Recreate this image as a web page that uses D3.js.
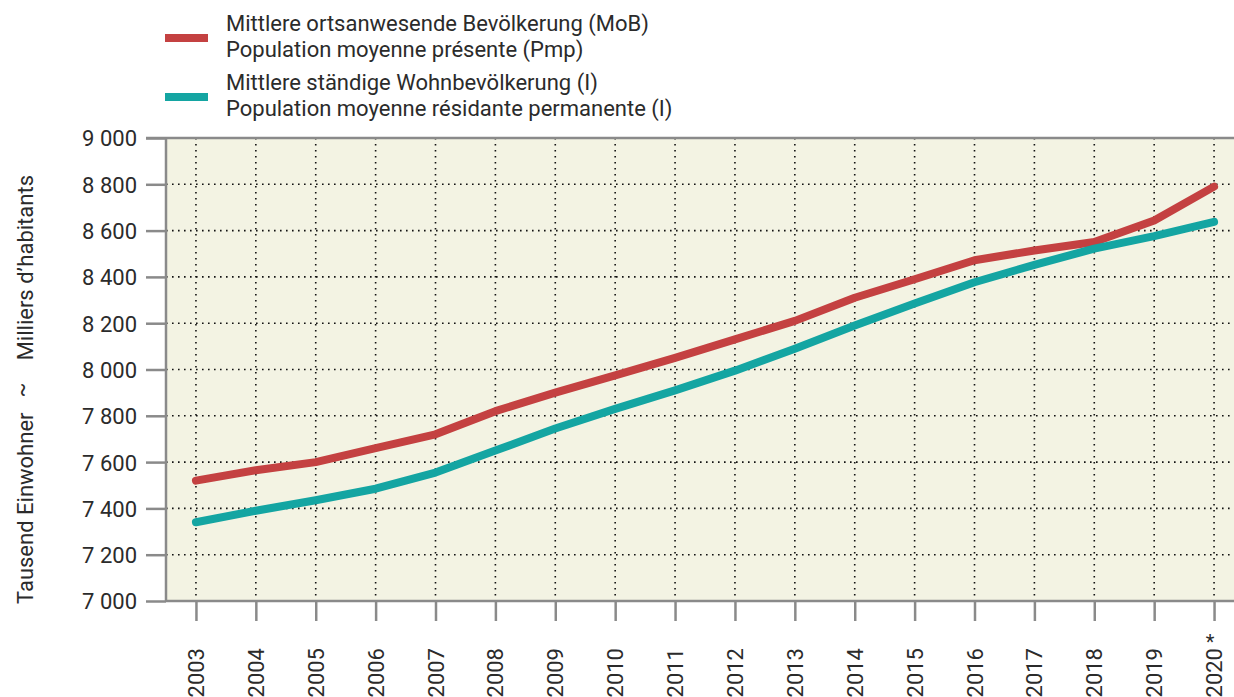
<!DOCTYPE html>
<html>
<head>
<meta charset="utf-8">
<script src="https://cdn.jsdelivr.net/npm/d3@7"></script>
<style>
  body { margin: 0; background: #fff; }
  text { font-family: Roboto, "Liberation Sans", sans-serif; fill: #2b2b2b; }
</style>
</head>
<body>
<div id="chart"></div>
<script>
// data (thousands of inhabitants)
var years = [2003, 2004, 2005, 2006, 2007, 2008, 2009, 2010, 2011, 2012, 2013, 2014, 2015, 2016, 2017, 2018, 2019, 2020];
var mobValues = [7520, 7565, 7600, 7660, 7720, 7820, 7900, 7975, 8050, 8130, 8210, 8310, 8390, 8472, 8514, 8551, 8644, 8790];
var resValues = [7340, 7390, 7435, 7485, 7555, 7650, 7745, 7830, 7910, 7995, 8090, 8190, 8285, 8377, 8452, 8522, 8576, 8638];
var yTicks = [7000, 7200, 7400, 7600, 7800, 8000, 8200, 8400, 8600, 8800, 9000];
var legendLabels = [
  ["Mittlere ortsanwesende Bevölkerung (MoB)", "Population moyenne présente (Pmp)"],
  ["Mittlere ständige Wohnbevölkerung (I)", "Population moyenne résidante permanente (I)"]
];
var colors = ["#c44141", "#14a5a2"];

var svgWidth = 1234;
var svgHeight = 697;

var margin = {top: 138, left: 166, bottom: 96, right: -10};
var width = svgWidth - margin.left - margin.right;
var height = svgHeight - margin.top - margin.bottom;

var svg = d3.select("#chart").append("svg")
  .attr("width", svgWidth)
  .attr("height", svgHeight);

var chartGroup = svg.append("g")
  .attr("transform", `translate(${margin.left}, ${margin.top})`);

// scales
var xScale = d3.scalePoint()
  .domain(years)
  .range([0, width])
  .padding(0.5);

var yScale = d3.scaleLinear()
  .domain([7000, 9000])
  .range([height, 0]);

// plot background
chartGroup.append("rect")
  .attr("width", width)
  .attr("height", height)
  .attr("fill", "#f3f3e3");

// dotted grid
chartGroup.selectAll(".hgrid")
  .data(yTicks.slice(1, -1))
  .enter()
  .append("line")
  .attr("x1", 0)
  .attr("x2", width)
  .attr("y1", d => yScale(d))
  .attr("y2", d => yScale(d))
  .attr("stroke", "#111")
  .attr("stroke-width", 1.6)
  .attr("stroke-dasharray", "1.6,4.4");

chartGroup.selectAll(".vgrid")
  .data(years)
  .enter()
  .append("line")
  .attr("x1", d => xScale(d))
  .attr("x2", d => xScale(d))
  .attr("y1", 0)
  .attr("y2", height)
  .attr("stroke", "#111")
  .attr("stroke-width", 1.6)
  .attr("stroke-dasharray", "1.6,4.4");

// left axis
var leftAxis = d3.axisLeft(yScale)
  .tickValues(yTicks)
  .tickSize(20)
  .tickPadding(9)
  .tickFormat(d => d3.format(",")(d).replace(",", " "));

var yAxis = chartGroup.append("g").call(leftAxis);
yAxis.attr("font-family", null);
yAxis.select(".domain").remove();
yAxis.selectAll("line").attr("stroke", "#8a8a8a").attr("stroke-width", 2.5);
yAxis.selectAll("text")
  .attr("font-size", "22px")
  .attr("dy", "0.36em")
  .style("fill", "#2b2b2b");

// bottom axis
var bottomAxis = d3.axisBottom(xScale).tickSize(20).tickFormat("");
var xAxis = chartGroup.append("g")
  .attr("transform", `translate(0, ${height})`)
  .call(bottomAxis);
xAxis.select(".domain").remove();
xAxis.selectAll("line").attr("stroke", "#8a8a8a").attr("stroke-width", 2.5);

// frame lines
chartGroup.append("line")
  .attr("x1", -20).attr("x2", width)
  .attr("y1", 0).attr("y2", 0)
  .attr("stroke", "#8a8a8a").attr("stroke-width", 2.5);
chartGroup.append("line")
  .attr("x1", 0).attr("x2", width)
  .attr("y1", height).attr("y2", height)
  .attr("stroke", "#8a8a8a").attr("stroke-width", 2.5);
chartGroup.append("line")
  .attr("x1", 0).attr("x2", 0)
  .attr("y1", 0).attr("y2", height)
  .attr("stroke", "#8a8a8a").attr("stroke-width", 2.5);

// year labels, rotated
var yearLabels = chartGroup.append("g")
  .attr("transform", `translate(0, ${height + 47})`);
yearLabels.selectAll("text")
  .data(years)
  .enter()
  .append("text")
  .attr("transform", d => `translate(${xScale(d) + 8}, 0) rotate(-90)`)
  .attr("text-anchor", "end")
  .attr("font-size", "22px")
  .text(d => d);
yearLabels.append("text")
  .attr("transform", `translate(${xScale(2020) - 4}, 1)`)
  .attr("text-anchor", "middle")
  .attr("font-size", "20px")
  .text("*");

// lines
var lineGen = d3.line()
  .x((d, i) => xScale(years[i]))
  .y(d => yScale(d));

[mobValues, resValues].forEach(function(vals, i) {
  chartGroup.append("path")
    .datum(vals)
    .attr("fill", "none")
    .attr("stroke", colors[i])
    .attr("stroke-width", 8)
    .attr("stroke-linecap", "round")
    .attr("stroke-linejoin", "round")
    .attr("d", lineGen);
});

// y axis title
var yTitle = svg.append("g").attr("transform", "translate(33, 0)");
yTitle.append("text")
  .attr("transform", "translate(0, 604) rotate(-90)")
  .attr("text-anchor", "start")
  .attr("font-size", "22px")
  .text("Tausend Einwohner");
yTitle.append("text")
  .attr("transform", "translate(-4, 390) rotate(-90)")
  .attr("text-anchor", "middle")
  .attr("font-size", "22px")
  .text("~");
yTitle.append("text")
  .attr("transform", "translate(0, 175) rotate(-90)")
  .attr("text-anchor", "end")
  .attr("font-size", "22px")
  .text("Milliers d\u2019habitants");

// legend
var legend = svg.append("g").attr("transform", "translate(165, 0)");
legendLabels.forEach(function(lines, i) {
  var y0 = 38 + i * 59;
  legend.append("rect")
    .attr("x", 0).attr("y", y0 - 4)
    .attr("width", 43).attr("height", 8)
    .attr("fill", colors[i]);
  lines.forEach(function(t, j) {
    legend.append("text")
      .attr("x", 61)
      .attr("y", y0 - 7 + j * 26)
      .attr("font-size", "22px")
      .text(t);
  });
});
</script>
</body>
</html>
